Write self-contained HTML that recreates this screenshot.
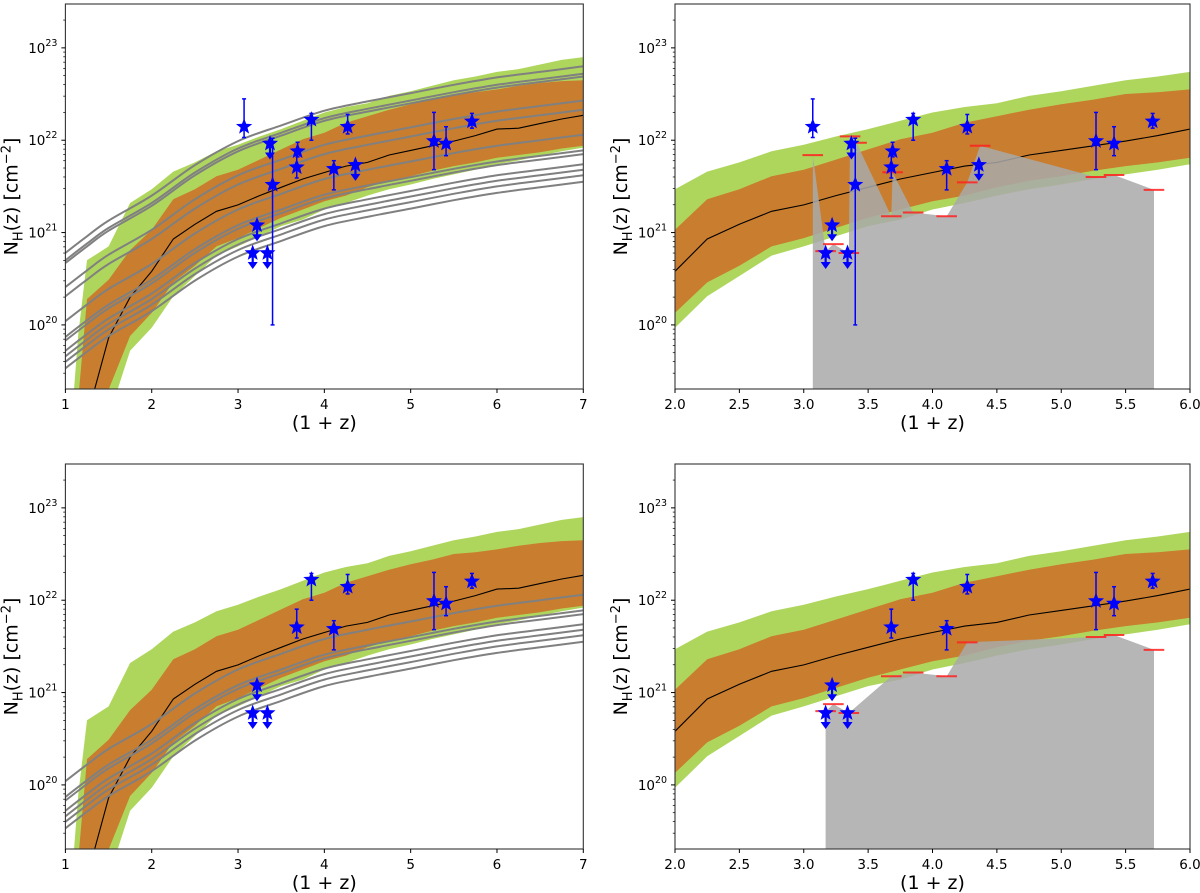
<!DOCTYPE html>
<html><head><meta charset="utf-8"><style>
html,body{margin:0;padding:0;background:#fff;}
svg{display:block;font-family:"DejaVu Sans","Liberation Sans",sans-serif;}
</style></head><body>
<svg id="fig" width="1200" height="893" viewBox="0 0 1200 893" xmlns="http://www.w3.org/2000/svg"></svg>
<script>
// ---- shared band data (x = 1+z, values = log10 NH) ----
const bandX   = [1.1,1.15,1.25,1.5,1.75,2,2.25,2.5,2.75,3,3.25,3.5,3.75,4,4.25,4.5,4.75,5,5.25,5.5,5.75,6,6.25,6.5,6.75,7];
const greenHi = [19.3,19.9,20.70,20.85,21.32,21.47,21.66,21.76,21.88,21.95,22.04,22.12,22.21,22.30,22.36,22.40,22.48,22.53,22.59,22.65,22.69,22.74,22.77,22.82,22.87,22.90];
const greenLo = [19.0,19.0,19.0,19.0,19.72,19.97,20.31,20.53,20.75,20.85,20.96,21.07,21.14,21.25,21.32,21.40,21.47,21.52,21.58,21.63,21.68,21.74,21.78,21.83,21.88,21.92];
const orangeHi= [19.0,19.2,20.28,20.49,20.81,21.03,21.36,21.47,21.61,21.68,21.79,21.90,22.01,22.08,22.19,22.26,22.33,22.39,22.44,22.50,22.52,22.55,22.59,22.62,22.64,22.65];
const orangeLo= [19.0,19.0,19.0,19.3,19.88,20.13,20.46,20.64,20.85,20.94,21.05,21.16,21.25,21.34,21.40,21.49,21.56,21.61,21.67,21.72,21.76,21.81,21.84,21.87,21.91,21.94];
const median  = [18.5,18.7,19.0,19.86,20.30,20.58,20.93,21.09,21.23,21.30,21.40,21.49,21.58,21.65,21.72,21.76,21.84,21.89,21.94,21.99,22.05,22.12,22.13,22.18,22.23,22.27];
// grey model curves: common shape + normalisation at 1+z=1
const curveShapeX   = [1,1.25,1.5,2,2.5,3,3.5,4,4.5,5,5.5,6,6.5,7];
const curveShapeOff = [0,0.18,0.35,0.62,0.95,1.21,1.38,1.54,1.64,1.73,1.82,1.90,1.96,2.02];
const curveNormTop    = [20.78,20.70,20.67,20.41,20.31,20.04,19.87,19.83,19.72,19.66,19.60,19.53];
const curveNormBottom = [20.04,19.87,19.83,19.72,19.66,19.60,19.53];
// GRB points
const ptX   = [3.07,3.37,3.69,3.68,3.85,4.27,4.11,4.36,5.27,5.41,5.71,3.40,3.22,3.17,3.34];
const ptY   = [1.4e22,9.2e21,7.6e21,5.1e21,1.67e22,1.4e22,4.9e21,5.4e21,9.8e21,9.2e21,1.6e22,3.3e21,1.2e21,6e20,6e20];
const ptHi  = [2.8e22,0,9.5e21,8e21,1.95e22,1.9e22,6e21,0,2e22,1.4e22,1.95e22,1.05e22,0,0,0];
const ptLo  = [1.07e22,0,6.6e21,3.9e21,1e22,1.17e22,2.9e21,0,4.8e21,6.8e21,1.35e22,1e20,0,0,0];
const ptUL  = [0,1,0,0,0,0,0,1,0,0,0,0,1,1,1];
const bottomSubset = [3,4,5,6,8,9,10,12,13,14];
// red IGM limits (top-right) and grey region
const limX  = [3.07,3.17,3.23,3.35,3.36,3.41,3.68,3.69,3.85,4.11,4.27,4.37,5.27,5.41,5.72];
const limY  = [6.9e21,6.3e20,7.5e20,6e20,1.1e22,9.4e21,1.5e21,4.5e21,1.65e21,1.5e21,3.5e21,8.7e21,4.0e21,4.2e21,2.9e21];
const limXB = [3.17,3.23,3.35,3.68,3.85,4.11,4.27,5.27,5.41,5.72];
const limYB = [6.3e20,7.5e20,6e20,1.5e21,1.65e21,1.5e21,3.5e21,4.0e21,4.2e21,2.9e21];
const xTicksLeft  = [1,2,3,4,5,6,7];
const xTicksRight = [2.0,2.5,3.0,3.5,4.0,4.5,5.0,5.5,6.0];
const yTicks = [20,21,22,23];

const NS="http://www.w3.org/2000/svg";
const svg=document.getElementById('fig');
function el(tag,attrs,parent){const e=document.createElementNS(NS,tag);for(const k in attrs)e.setAttribute(k,attrs[k]);(parent||svg).appendChild(e);return e;}
const LMIN=19.306, LMAX=23.475;
function panel(name,px0,px1,xmin,xmax,py0,py1){
  return {name,px0,px1,xmin,xmax,py0,py1,
    sx:v=>px0+(v-xmin)/(xmax-xmin)*(px1-px0),
    sy:l=>py1-(l-LMIN)/(LMAX-LMIN)*(py1-py0)};
}
const panels=[
  panel('top-left',65.4,583.3,1,7,4,389),
  panel('top-right',675,1190,2,6,4,389),
  panel('bottom-left',65.4,583.3,1,7,464,849),
  panel('bottom-right',675,1190,2,6,464,849)
];
function smoothPath(pts){
  let d='M'+pts[0][0].toFixed(1)+','+pts[0][1].toFixed(1);
  for(let i=0;i<pts.length-1;i++){
    const p0=pts[Math.max(0,i-1)],p1=pts[i],p2=pts[i+1],p3=pts[Math.min(pts.length-1,i+2)];
    const c1=[p1[0]+(p2[0]-p0[0])/6,p1[1]+(p2[1]-p0[1])/6];
    const c2=[p2[0]-(p3[0]-p1[0])/6,p2[1]-(p3[1]-p1[1])/6];
    d+=`C${c1[0].toFixed(1)},${c1[1].toFixed(1)} ${c2[0].toFixed(1)},${c2[1].toFixed(1)} ${p2[0].toFixed(1)},${p2[1].toFixed(1)}`;
  }
  return d;
}
let cid=0;
function starPath(cx,cy,R,r){let d='';for(let i=0;i<10;i++){const a=-Math.PI/2+i*Math.PI/5;const rr=i%2?r:R;d+=(i?'L':'M')+(cx+rr*Math.cos(a)).toFixed(1)+','+(cy+rr*Math.sin(a)).toFixed(1);}return d+'Z';}

panels.forEach((P,pi)=>{
  const g=el('g',{});
  
  
  const clip=el('clipPath',{id:'c'+(cid)},g);
  el('rect',{x:P.px0,y:P.py0,width:P.px1-P.px0,height:P.py1-P.py0},clip);
  const pg=el('g',{'clip-path':'url(#c'+cid+')'},g); cid++;
  function band(hi,lo,color,name){
    let d='';bandX.forEach((x,i)=>{d+=(i?'L':'M')+P.sx(x).toFixed(1)+','+P.sy(hi[i]).toFixed(1);});
    for(let i=bandX.length-1;i>=0;i--)d+='L'+P.sx(bandX[i]).toFixed(1)+','+P.sy(lo[i]).toFixed(1);
    const p=el('path',{d:d+'Z',fill:color,stroke:'none'},pg);
    
    
  }
  band(greenHi,greenLo,'#aed65c','band-2sigma');
  band(orangeHi,orangeLo,'#c97d2e','band-1sigma');
  let dm='';bandX.forEach((x,i)=>{dm+=(i?'L':'M')+P.sx(x).toFixed(1)+','+P.sy(median[i]).toFixed(1);});
  const ml=el('path',{d:dm,fill:'none',stroke:'#000','stroke-width':1.1},pg);
  
  
  const right=(pi%2===1), top=(pi<2);
  if(!right){
    const norms=top?curveNormTop:curveNormBottom;
    norms.forEach(n=>{
      const pts=curveShapeX.map((x,i)=>[P.sx(x),P.sy(n+curveShapeOff[i])]);
      const c=el('path',{d:smoothPath(pts),fill:'none',stroke:'#808080','stroke-width':2},pg);
      
      
    });
  } else {
    const lx=top?limX:limXB, ly=top?limY:limYB;
    let d='M'+P.sx(lx[0]).toFixed(1)+','+P.py1;
    lx.forEach((x,i)=>{d+='L'+P.sx(x).toFixed(1)+','+P.sy(Math.log10(ly[i])).toFixed(1);});
    d+='L'+P.sx(lx[lx.length-1]).toFixed(1)+','+P.py1+'Z';
    const gp=el('path',{d,fill:'#a9a9a9','fill-opacity':0.85},pg);
    
    
    lx.forEach((x,i)=>{
      const y=P.sy(Math.log10(ly[i]));
      const l=el('line',{x1:P.sx(x-0.08),x2:P.sx(x+0.08),y1:y,y2:y,stroke:'#ff2020','stroke-width':2,'stroke-opacity':0.85},pg);
      
      
    });
  }
  const idx=top?ptX.map((_,i)=>i):bottomSubset;
  idx.forEach(i=>{
    const cx=P.sx(ptX[i]), cy=P.sy(Math.log10(ptY[i]));
    const pgp=el('g',{},pg);
    
    
    if(ptUL[i]){
      el('line',{x1:cx,x2:cx,y1:cy,y2:cy+12,stroke:'#0000ff','stroke-width':2.2},pgp);
      el('path',{d:`M${cx-5},${cy+9}L${cx+5},${cy+9}L${cx},${cy+16}Z`,fill:'#0000ff'},pgp);
    } else {
      const yh=P.sy(Math.log10(ptHi[i])), yl=P.sy(Math.log10(ptLo[i]));
      el('line',{x1:cx,x2:cx,y1:yh,y2:yl,stroke:'#0000ff','stroke-width':1.5},pgp);
      el('line',{x1:cx-2,x2:cx+2,y1:yh,y2:yh,stroke:'#0000ff','stroke-width':1.5},pgp);
      el('line',{x1:cx-2,x2:cx+2,y1:yl,y2:yl,stroke:'#0000ff','stroke-width':1.5},pgp);
    }
    el('path',{d:starPath(cx,cy,8.5,3.6),fill:'#0000ff'},pgp);
  });
  const fr=el('rect',{x:P.px0,y:P.py0,width:P.px1-P.px0,height:P.py1-P.py0,fill:'none',stroke:'#333','stroke-width':1.1},g);
  
  
  const xt=right?xTicksRight:xTicksLeft;
  xt.forEach(v=>{
    const x=P.sx(v);
    el('line',{x1:x,x2:x,y1:P.py1,y2:P.py1+4,stroke:'#000','stroke-width':1},g);
    const t=el('text',{x:x,y:P.py1+20,'text-anchor':'middle','font-size':13.5,fill:'#000'},g);
    t.textContent=right?v.toFixed(1):String(v);
    
    
  });
  for(let k=19;k<=23;k++){
    for(let m=1;m<10;m++){
      const l=k+Math.log10(m); if(l<LMIN||l>LMAX)continue;
      const y=P.sy(l);
      el('line',{x1:P.px0-(m===1?4:2.2),x2:P.px0,y1:y,y2:y,stroke:'#000','stroke-width':m===1?1:0.7},g);
    }
  }
  yTicks.forEach(k=>{
    const y=P.sy(k);
    const t=el('text',{x:P.px0-20,y:y+5,'text-anchor':'end','font-size':13.5,fill:'#000'},g);
    t.textContent='10';
    
    
    const s=el('text',{x:P.px0-20,y:y-2,'text-anchor':'start','font-size':9.5,fill:'#000'},g);
    s.textContent=String(k);
    
    
  });
  const xl=el('text',{x:(P.px0+P.px1)/2,y:P.py1+40,'text-anchor':'middle','font-size':19,fill:'#000'},g);
  xl.textContent='(1 + z)';
  
  
  const ycx=P.px0-48, ycy=(P.py0+P.py1)/2;
  const yl=el('text',{x:ycx,y:ycy,'text-anchor':'middle','font-size':19,fill:'#000',transform:`rotate(-90 ${ycx} ${ycy})`},g);
  yl.innerHTML='N<tspan font-size="13" dy="5">H</tspan><tspan dy="-5">(z) [cm</tspan><tspan font-size="13" dy="-7">−2</tspan><tspan dy="7">]</tspan>';
  
  
});
</script>
</body></html>
